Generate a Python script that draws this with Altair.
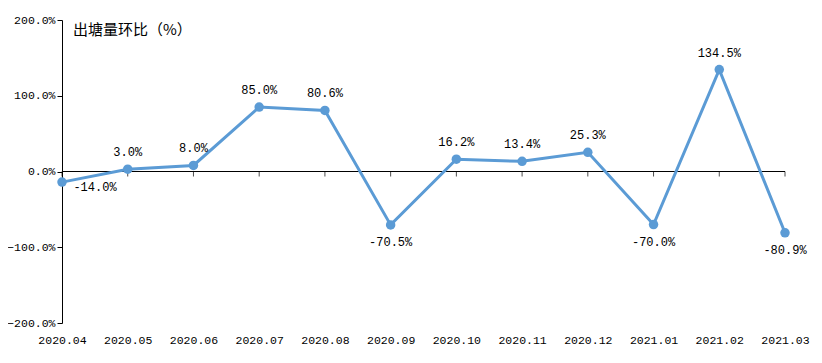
import altair as alt
import pandas as pd

months = ["2020.04", "2020.05", "2020.06", "2020.07", "2020.08", "2020.09",
          "2020.10", "2020.11", "2020.12", "2021.01", "2021.02", "2021.03"]
values = [-14.0, 3.0, 8.0, 85.0, 80.6, -70.5, 16.2, 13.4, 25.3, -70.0, 134.5, -80.9]
title_text = "出塘量环比（%）"

df = pd.DataFrame({"month": months, "value": values})
df["label"] = [f"{v:.1f}%" for v in values]

mono = "Liberation Mono"
blue = "#5B9BD5"

x_enc = alt.X("month:N", sort=months,
              scale=alt.Scale(type="point", padding=0),
              axis=alt.Axis(title=None, domain=False, ticks=False, labelAngle=0,
                            labelFont=mono, labelFontSize=11.5, labelColor="black",
                            labelPadding=11))
y_enc = alt.Y("value:Q",
              scale=alt.Scale(domain=[-200, 200], nice=False),
              axis=alt.Axis(title=None, values=[-200, -100, 0, 100, 200], grid=False,
                            domainColor="black", tickColor="black", tickSize=5,
                            labelFont=mono, labelFontSize=11.5, labelColor="black",
                            labelPadding=2,
                            labelExpr="format(datum.value, '.1f') + '%'"))

base = alt.Chart(df)

zero = base.mark_rule(color="black", strokeWidth=1).encode(y=alt.datum(0))
ticks = base.mark_tick(orient="vertical", size=5, thickness=1, color="black",
                       yOffset=2.5).encode(x=x_enc, y=alt.datum(0))
line = base.mark_line(color=blue, strokeWidth=3).encode(x=x_enc, y=y_enc)
pts = base.mark_circle(color=blue, size=90, opacity=1).encode(x=x_enc, y=y_enc)

txt_style = dict(font=mono, fontSize=12, color="black", baseline="middle")
above = base.transform_filter("datum.value >= 0").mark_text(dy=-17, **txt_style).encode(
    x=x_enc, y=y_enc, text="label:N")
below = base.transform_filter("datum.value < 0 && datum.month != '2020.04'").mark_text(
    dy=17, **txt_style).encode(x=x_enc, y=y_enc, text="label:N")
first = base.transform_filter("datum.month == '2020.04'").mark_text(
    dx=33, dy=5, **txt_style).encode(x=x_enc, y=y_enc, text="label:N")

chart = alt.layer(zero, ticks, line, pts, above, below, first).properties(
    width=723, height=303,
    title=alt.TitleParams(title_text, anchor="start", frame="group", dx=11, dy=28,
                          font="Noto Sans CJK SC", fontSize=15, fontWeight="normal",
                          color="black"),
    autosize=alt.AutoSizeParams(type="none"),
    padding={"left": 54, "top": 12, "right": 29, "bottom": 32},
).configure(background="white").configure_view(stroke="transparent", strokeWidth=0)

chart.save("out.html", embed_options={"renderer": "svg", "actions": False})
